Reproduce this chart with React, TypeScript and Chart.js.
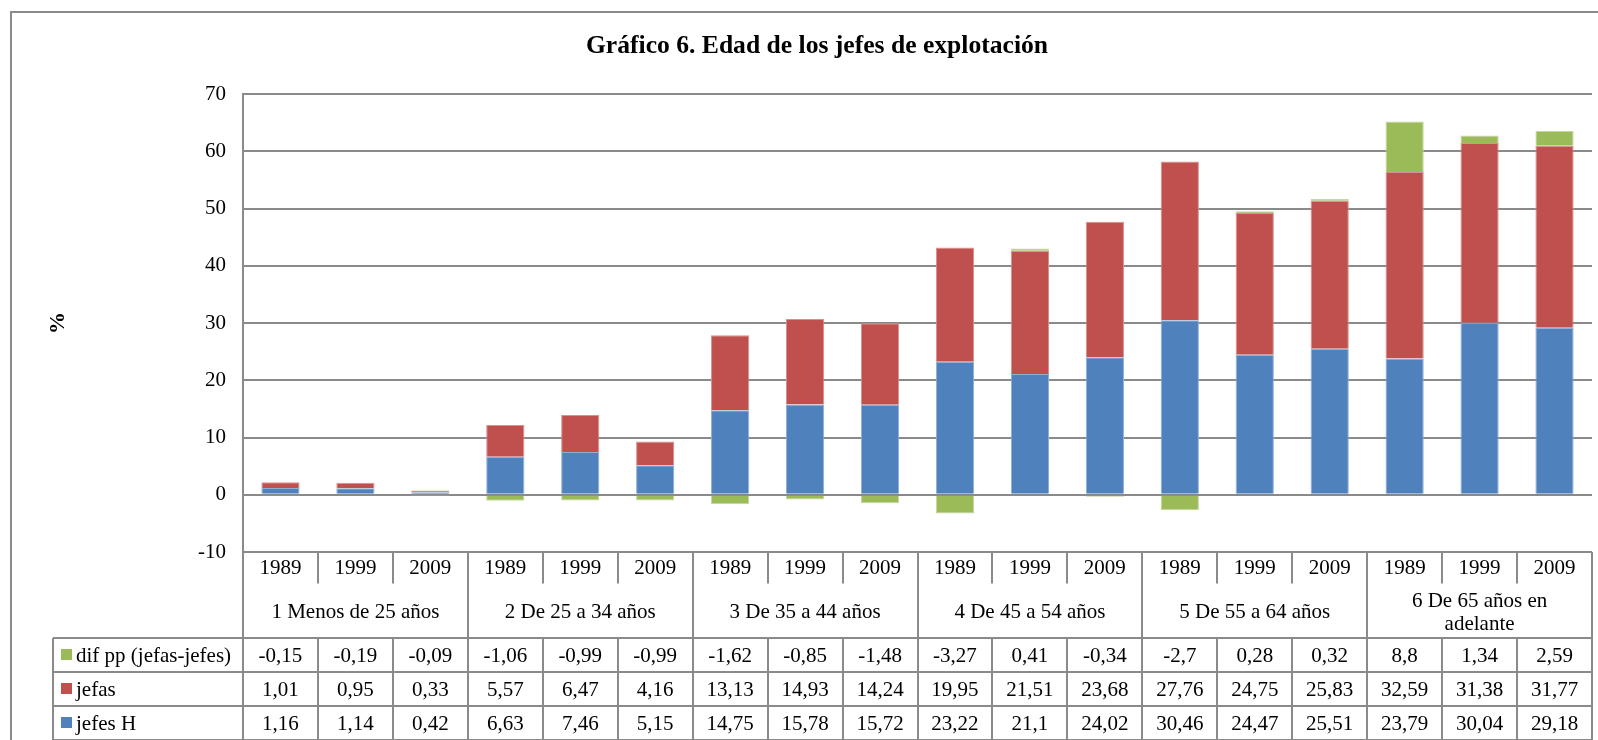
import React, { useEffect, useRef } from 'react';
import { Chart, registerables } from 'chart.js';

Chart.register(...registerables);

// ---------- data ----------
const years = ['1989', '1999', '2009'];
const groups: (string | string[])[] = [
  '1 Menos de 25 años',
  '2 De 25 a 34 años',
  '3 De 35 a 44 años',
  '4 De 45 a 54 años',
  '5 De 55 a 64 años',
  ['6 De 65 años en', 'adelante'],
];
const categoryLabels = groups.flatMap((g) => years.map((y) => `${y}`));

const jefesH = [1.16, 1.14, 0.42, 6.63, 7.46, 5.15, 14.75, 15.78, 15.72, 23.22, 21.1, 24.02, 30.46, 24.47, 25.51, 23.79, 30.04, 29.18];
const jefas = [1.01, 0.95, 0.33, 5.57, 6.47, 4.16, 13.13, 14.93, 14.24, 19.95, 21.51, 23.68, 27.76, 24.75, 25.83, 32.59, 31.38, 31.77];
const difPP = [-0.15, -0.19, -0.09, -1.06, -0.99, -0.99, -1.62, -0.85, -1.48, -3.27, 0.41, -0.34, -2.7, 0.28, 0.32, 8.8, 1.34, 2.59];

const yTicksMin = -10;
const yTicksMax = 70;
const yTickStep = 10;

const titleText = 'Gráfico 6. Edad de los jefes de explotación';
const yAxisTitle = '%';

// ---------- styles ----------
const FONT = "'Liberation Serif', 'Times New Roman', serif";
const GRID = '#8a8a8a';
const BLUE = '#4F81BD';
const RED = '#C0504D';
const GREEN = '#9BBB59';

const fmt = (v: number) => String(v).replace('.', ',');

const tablePlugin = {
  id: 'dataTable',
  beforeDraw(chart: any) {
    const ctx = chart.ctx as CanvasRenderingContext2D;
    ctx.save();
    // outer frame
    ctx.strokeStyle = GRID;
    ctx.lineWidth = 2;
    ctx.beginPath();
    ctx.moveTo(11, 760);
    ctx.lineTo(11, 12);
    ctx.lineTo(1620, 12);
    ctx.stroke();
    // title
    ctx.fillStyle = '#000';
    ctx.font = `bold 25.6px ${FONT}`;
    ctx.textAlign = 'center';
    ctx.textBaseline = 'middle';
    ctx.fillText(titleText, 817, 46);
    // y title
    ctx.translate(58, 323);
    ctx.rotate(-Math.PI / 2);
    ctx.font = `bold 22px ${FONT}`;
    ctx.fillText(yAxisTitle, 0, 0);
    ctx.restore();
  },
  afterDraw(chart: any) {
    const ctx = chart.ctx as CanvasRenderingContext2D;
    const xs = chart.scales.x;
    const ys = chart.scales.y;
    const { left: L, right: R } = chart.chartArea;
    const n = jefesH.length;
    const half = (xs.getPixelForValue(1) - xs.getPixelForValue(0)) / 2;
    const top = ys.getPixelForValue(yTicksMin);
    const yearB = top + 31.5;
    const catB = top + 86;
    const rowH = 34;
    const bottom = catB + 3 * rowH;
    const legendL = 53;

    ctx.save();
    ctx.strokeStyle = GRID;
    ctx.lineWidth = 2;
    const line = (x1: number, y1: number, x2: number, y2: number) => {
      ctx.beginPath();
      ctx.moveTo(x1, y1);
      ctx.lineTo(x2, y2);
      ctx.stroke();
    };
    for (let r = 0; r <= 3; r++) line(legendL, Math.round(catB + r * rowH), R, Math.round(catB + r * rowH));
    line(legendL, catB, legendL, bottom);
    line(L, top, L, bottom);
    line(R, top, R, bottom);
    for (let i = 1; i < n; i++) {
      const xb = Math.round(xs.getPixelForValue(i) - half);
      if (i % 3 === 0) {
        line(xb, top, xb, bottom);
      } else {
        line(xb, top, xb, yearB);
        line(xb, catB, xb, bottom);
      }
    }

    ctx.fillStyle = '#000';
    ctx.font = `21px ${FONT}`;
    ctx.textAlign = 'center';
    ctx.textBaseline = 'middle';
    for (let i = 0; i < n; i++) {
      ctx.fillText(categoryLabels[i], xs.getPixelForValue(i), (top + yearB) / 2 + 1);
    }
    groups.forEach((g, gi) => {
      const cx = (xs.getPixelForValue(gi * 3) + xs.getPixelForValue(gi * 3 + 2)) / 2;
      const cy = (yearB + catB) / 2 + 2;
      if (Array.isArray(g)) {
        const lh = 23.5;
        g.forEach((t, k) => ctx.fillText(t, cx, cy + (k - (g.length - 1) / 2) * lh));
      } else {
        ctx.fillText(g, cx, cy);
      }
    });

    const rows = [
      { label: chart.data.datasets[2].label, color: GREEN, values: difPP },
      { label: chart.data.datasets[1].label, color: RED, values: jefas },
      { label: chart.data.datasets[0].label, color: BLUE, values: jefesH },
    ];
    rows.forEach((row, r) => {
      const cy = catB + r * rowH + rowH / 2;
      ctx.fillStyle = row.color;
      ctx.fillRect(61, cy - 6, 11, 11);
      ctx.fillStyle = '#000';
      ctx.textAlign = 'left';
      ctx.fillText(row.label, 76, cy + 1);
      ctx.textAlign = 'center';
      row.values.forEach((v, i) => ctx.fillText(fmt(v), xs.getPixelForValue(i), cy + 1));
    });
    ctx.restore();
  },
};

export default function App() {
  const ref = useRef<HTMLCanvasElement>(null);
  useEffect(() => {
    if (!ref.current) return;
    const chart = new Chart(ref.current, {
      type: 'bar',
      data: {
        labels: categoryLabels,
        datasets: [
          { label: 'jefes H', data: jefesH, backgroundColor: BLUE, borderColor: '#8eaed6', borderWidth: 1 },
          { label: 'jefas', data: jefas, backgroundColor: RED, borderColor: '#d98f8d', borderWidth: 1 },
          { label: 'dif pp (jefas-jefes)', data: difPP, backgroundColor: GREEN, borderColor: '#c3d89f', borderWidth: 1 },
        ],
      },
      options: {
        responsive: false,
        animation: false,
        events: [],
        layout: { padding: { left: 0, top: 94, right: 6, bottom: 188 } },
        datasets: { bar: { categoryPercentage: 1, barPercentage: 0.51 } },
        plugins: { legend: { display: false }, tooltip: { enabled: false }, title: { display: false } },
        scales: {
          x: { display: false, stacked: true },
          y: {
            stacked: true,
            min: yTicksMin,
            max: yTicksMax,
            ticks: { stepSize: yTickStep, padding: 17, color: '#000', font: { family: FONT, size: 21 } },
            grid: { color: GRID, lineWidth: 2, drawTicks: false },
            border: { color: GRID, width: 2 },
            afterFit: (s: any) => {
              s.width = 243;
            },
          },
        },
      } as any,
      plugins: [tablePlugin],
    });
    return () => chart.destroy();
  }, []);
  return (
    <div style={{ position: 'absolute', left: 0, top: 0, width: 1598, height: 740, background: '#fff' }}>
      <canvas ref={ref} width={1598} height={740} style={{ display: 'block' }} />
    </div>
  );
}
